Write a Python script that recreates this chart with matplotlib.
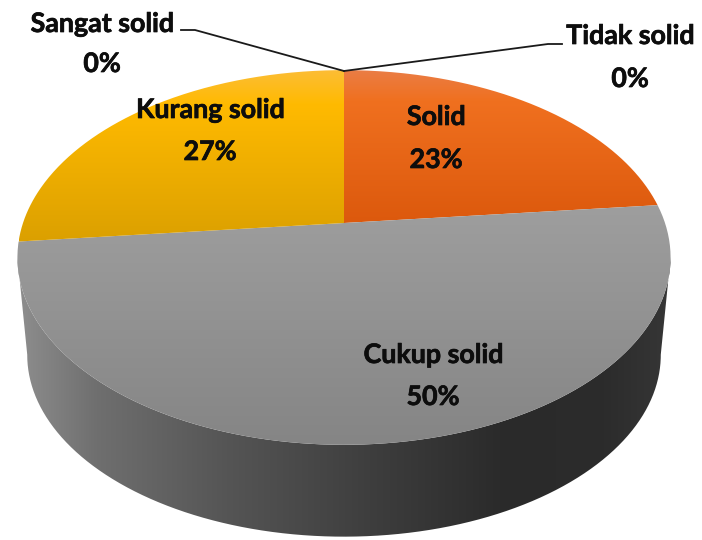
import matplotlib.patheffects as pe
import matplotlib.pyplot as plt
import numpy as np
from matplotlib.colors import LinearSegmentedColormap
from matplotlib.patches import PathPatch
from matplotlib.path import Path

plt.rcParams["font.family"] = ["Lato", "DejaVu Sans"]

# Data, shares estimated from the slice edges (labels show them rounded)
labels = ["Solid", "Cukup solid", "Kurang solid", "Sangat solid", "Tidak solid"]
values = [23.4, 50, 26.6, 0, 0]

# pie geometry in pixels, perspective fitted by eye
CX, CY = 344, 223
RX, RY = 321, 181
PERSP = 0.184
BASE_DROP, BASE_SCALE = 98.5, 0.97


def project(theta, r=1.0, drop=0, scale=1.0):
    # theta in radians, clockwise from the top of the pie
    X = r * np.sin(theta)
    Y = r * np.cos(theta)
    d = 1 + PERSP * Y
    return CX + scale * RX * X / d, CY + drop - scale * RY * Y / d


def gradient_fill(ax, verts, stops, horizontal=False):
    path = Path(verts, closed=False)
    xs, ys = verts[:, 0], verts[:, 1]
    cmap = LinearSegmentedColormap.from_list("g", stops)
    grad = np.linspace(0, 1, 256).reshape(-1, 1)
    extent = (xs.min(), xs.max(), ys.max(), ys.min())
    if horizontal:
        grad = grad.T
    im = ax.imshow(grad, cmap=cmap, extent=extent, aspect="auto", origin="upper",
                   vmin=0, vmax=1, interpolation="bilinear")
    patch = PathPatch(path, transform=ax.transData, fc="none", ec="none")
    ax.add_patch(patch)
    im.set_clip_path(patch)


fig = plt.figure(figsize=(7.02, 5.40), dpi=100)
ax = fig.add_axes([0, 0, 1, 1])

# side wall first
t = np.linspace(0, 2 * np.pi, 721)
tx, ty = project(t)
t_right, t_left = t[np.argmax(tx)], t[np.argmin(tx)]
front = np.linspace(t_right, t_left, 300)
fx, fy = project(front)
bkx, bky = project(front[::-1], drop=BASE_DROP, scale=BASE_SCALE)
wall = np.column_stack([np.r_[fx, bkx], np.r_[fy, bky]])
wall_stops = [(0, "#8e8e8e"), (0.12, "#6f6f6f"), (0.32, "#555555"),
              (0.55, "#3d3d3d"), (0.75, "#2a2a2a"), (0.9, "#2c2c2c"), (1, "#363636")]
gradient_fill(ax, wall, wall_stops, horizontal=True)

# top face wedges
wedge_stops = {
    "Solid": [(0, "#ea7d45"), (0.2, "#f0701f"), (1, "#dc590d")],
    "Cukup solid": [(0, "#9e9e9e"), (1, "#858585")],
    "Kurang solid": [(0, "#fcbd35"), (0.2, "#ffba00"), (1, "#dba000")],
}
angles = np.cumsum([0] + values) / sum(values) * 2 * np.pi
for i, name in enumerate(labels):
    if values[i] == 0:
        continue
    arc = np.linspace(angles[i], angles[i + 1], 200)
    ax_, ay_ = project(arc)
    verts = np.column_stack([np.r_[CX, ax_, CX], np.r_[CY, ay_, CY]])
    gradient_fill(ax, verts, wedge_stops[name])

# leader lines for the zero slices
ax.plot([181, 195, 344], [30, 30, 71], color="#1a1a1a", lw=1.3)
ax.plot([562, 548, 344], [44, 44, 71], color="#1a1a1a", lw=1.3)

label_pos = {
    "Solid": (436, 117, 160),
    "Cukup solid": (433, 355, 397),
    "Kurang solid": (210, 110, 152),
    "Sangat solid": (102, 24, 64),
    "Tidak solid": (630, 36, 79),
}
heavier = [pe.withStroke(linewidth=0.5, foreground="#0d0d0d")]
for name, val in zip(labels, values):
    x, y1, y2 = label_pos[name]
    ax.text(x, y1, name, ha="center", va="center", fontsize=19.3,
            fontweight="bold", color="#0d0d0d", path_effects=heavier)
    ax.text(x, y2, f"{round(val)}%", ha="center", va="center", fontsize=19.3,
            fontweight="bold", color="#0d0d0d", path_effects=heavier)

ax.set_xlim(0, 702)
ax.set_ylim(540, 0)
ax.axis("off")
fig.savefig("out.png", dpi=100)
plt.close(fig)
